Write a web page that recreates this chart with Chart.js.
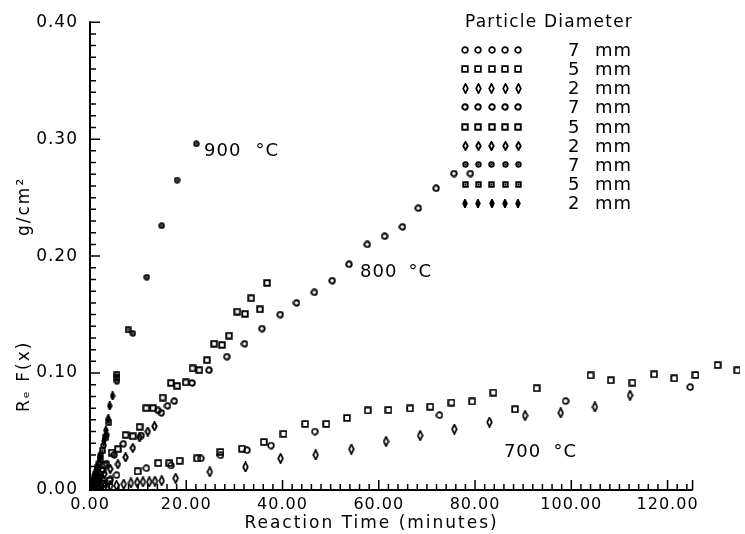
<!DOCTYPE html>
<html><head><meta charset="utf-8">
<script src="https://cdn.jsdelivr.net/npm/chart.js@4/dist/chart.umd.min.js"></script>
<style>html,body{margin:0;padding:0;background:#fff;}canvas{display:block}</style>
</head><body>
<canvas id="c" width="745" height="534"></canvas>
<script>
// ---------------- data ----------------
const xTickValues = [0, 20, 40, 60, 80, 100, 120];
const yTickValues = [0, 0.1, 0.2, 0.3, 0.4];
const xTitle = "Reaction Time (minutes)";
const yTitleLeft = "Rₑ F(x)";
const yTitleRight = "g/cm²";
const legendTitle = "Particle Diameter";
const legendLabels = ["7 mm","5 mm","2 mm","7 mm","5 mm","2 mm","7 mm","5 mm","2 mm"];
const tempNumbers = ["900", "800", "700"];
const tempUnit = "°C";

// [minutes, Re F(x)] pairs
const t900_7mm = [[0,0],[0.3,0.004],[0.6,0.007],[1.0,0.012],[1.3,0.016],[1.8,0.023],[2.2,0.030],[2.8,0.038],[3.4,0.047],[5.6,0.093],[8.9,0.134],[11.8,0.182],[14.9,0.226],[18.1,0.265],[22.1,0.296]];
const t900_5mm = [[0,0],[0.4,0.004],[0.8,0.008],[1.2,0.013],[1.6,0.019],[2.1,0.026],[2.6,0.034],[3.2,0.045],[3.9,0.058],[5.6,0.096],[5.6,0.099],[7.9,0.137]];
const t900_2mm = [[0,0],[0.2,0.002],[0.4,0.005],[0.7,0.008],[1.0,0.012],[1.5,0.019],[2.1,0.028],[2.9,0.042],[3.3,0.051],[3.8,0.061],[4.1,0.072],[4.7,0.0805]];

const t800_7mm = [[0,0],[0.5,0.002],[1.0,0.005],[1.5,0.008],[2.0,0.011],[2.7,0.017],[3.4,0.0226],[5.0,0.030],[6.9,0.0395],[10.6,0.0466],[14.1,0.068],[14.8,0.066],[16.1,0.072],[17.5,0.076],[21.2,0.0915],[24.7,0.1025],[28.4,0.114],[32.1,0.125],[35.7,0.138],[39.5,0.150],[42.9,0.160],[46.6,0.169],[50.3,0.179],[53.8,0.193],[57.6,0.210],[61.2,0.217],[64.9,0.225],[68.2,0.241],[71.9,0.258],[75.6,0.2706],[79.0,0.2706]];
const t800_5mm = [[0,0],[0.5,0.003],[1.0,0.006],[1.5,0.009],[2.0,0.013],[3.0,0.021],[4.5,0.032],[5.8,0.035],[7.4,0.047],[8.9,0.046],[10.3,0.054],[11.7,0.070],[13.1,0.070],[15.1,0.079],[16.8,0.0915],[18.1,0.089],[19.9,0.092],[21.3,0.104],[22.7,0.1025],[24.3,0.111],[25.8,0.125],[27.4,0.124],[28.9,0.132],[30.6,0.1525],[32.2,0.1506],[33.5,0.164],[35.3,0.1545],[36.8,0.177]];
const t800_2mm = [[0,0],[0.5,0.003],[1.2,0.006],[2.0,0.010],[3.0,0.014],[4.2,0.018],[5.8,0.022],[7.4,0.028],[8.9,0.036],[10.3,0.045],[12.0,0.050],[13.4,0.0545]];

const t700_7mm = [[0,0],[0.5,0.001],[1.0,0.002],[2.0,0.004],[3.0,0.006],[4.2,0.009],[5.5,0.0127],[11.7,0.0186],[16.8,0.021],[23.0,0.027],[27.1,0.0297],[32.6,0.034],[37.6,0.038],[46.7,0.050],[72.6,0.064],[98.8,0.076],[124.7,0.088]];
const t700_5mm = [[0,0],[0.7,0.001],[1.5,0.003],[2.7,0.005],[4.0,0.008],[9.9,0.016],[14.2,0.023],[16.5,0.023],[18.6,0.025],[22.3,0.027],[27.1,0.0325],[31.6,0.0353],[36.1,0.041],[40.2,0.048],[44.7,0.0565],[49.1,0.0565],[53.4,0.0616],[57.7,0.068],[62.0,0.0684],[66.5,0.0697],[70.7,0.0712],[75.1,0.0748],[79.4,0.0757],[83.8,0.0833],[88.3,0.069],[92.8,0.087],[104.0,0.098],[108.2,0.0938],[112.7,0.0918],[117.2,0.0989],[121.4,0.0955],[125.8,0.0983],[130.4,0.1068],[134.5,0.1023]];
const t700_2mm = [[0,0],[1.0,0.001],[2.0,0.002],[3.0,0.003],[4.2,0.0035],[5.5,0.004],[7.0,0.005],[8.5,0.006],[9.8,0.0065],[11.0,0.007],[12.3,0.007],[13.5,0.0075],[14.9,0.008],[17.8,0.010],[24.9,0.0155],[32.3,0.0197],[39.6,0.027],[46.9,0.030],[54.3,0.035],[61.5,0.0415],[68.6,0.0466],[75.7,0.052],[83.0,0.058],[90.4,0.0636],[97.8,0.066],[104.9,0.071],[112.2,0.081]];

// ---------------- markers ----------------
function marker(shape, w, h, lw, dot) {
  const c = document.createElement('canvas');
  c.width = w; c.height = h;
  const g = c.getContext('2d');
  g.lineWidth = lw; g.strokeStyle = '#000'; g.fillStyle = '#000';
  const cx = w / 2, cy = h / 2;
  g.beginPath();
  if (shape === 'circle') g.arc(cx, cy, Math.min(w, h) / 2 - lw / 2 - 0.3, 0, Math.PI * 2);
  else if (shape === 'square') g.rect(lw / 2 + 0.3, lw / 2 + 0.3, w - lw - 0.6, h - lw - 0.6);
  else { g.moveTo(cx, lw / 2); g.lineTo(w - lw / 2 - 0.3, cy); g.lineTo(cx, h - lw / 2); g.lineTo(lw / 2 + 0.3, cy); g.closePath(); }
  g.stroke();
  if (dot) { g.beginPath(); g.arc(cx, cy, 1, 0, Math.PI * 2); g.fill(); }
  return c;
}
const MK = {
  c700: marker('circle', 8, 8, 1.7, false), s700: marker('square', 8, 8, 1.7, false), d700: marker('diamond', 7, 11, 1.7, false),
  c800: marker('circle', 8, 8, 1.9, false), s800: marker('square', 8, 8, 1.9, false), d800: marker('diamond', 7, 10, 1.9, false),
  c900: marker('circle', 7, 7, 2.0, true),  s900: marker('square', 7, 7, 2.0, true),  d900: marker('diamond', 6, 9, 2.2, true)
};

const series = [
  {pts: t700_7mm, mk: MK.c700}, {pts: t700_5mm, mk: MK.s700}, {pts: t700_2mm, mk: MK.d700},
  {pts: t800_7mm, mk: MK.c800}, {pts: t800_5mm, mk: MK.s800}, {pts: t800_2mm, mk: MK.d800},
  {pts: t900_7mm, mk: MK.c900}, {pts: t900_5mm, mk: MK.s900}, {pts: t900_2mm, mk: MK.d900}
];

const FONT = "'DejaVu Sans', sans-serif";

function drawAxes(chart) {
  const ctx = chart.ctx, xs = chart.scales.x, ys = chart.scales.y;
  const x0 = xs.getPixelForValue(0), y0 = ys.getPixelForValue(0);
  const xEnd = xs.getPixelForValue(125.2), yTop = ys.getPixelForValue(0.4);
  ctx.save();
  ctx.globalAlpha = 1;
  ctx.setLineDash([]);
  ctx.strokeStyle = '#000000';
  ctx.lineWidth = 2;
  ctx.beginPath();
  ctx.moveTo(x0, y0); ctx.lineTo(xEnd, y0);
  ctx.moveTo(x0, y0 + 1); ctx.lineTo(x0, yTop - 1);
  ctx.stroke();
  ctx.lineWidth = 1.5;
  ctx.beginPath();
  for (let i = 1; i <= 40; i++) {
    const p = ys.getPixelForValue(i / 100);
    const len = (i % 10 === 0) ? 10 : 6;
    ctx.moveTo(x0, p); ctx.lineTo(x0 + len, p);
  }
  for (let v = 2; v <= 124; v += 2) {
    const p = xs.getPixelForValue(v);
    const len = (v % 20 === 0) ? 10 : 6;
    ctx.moveTo(p, y0); ctx.lineTo(p, y0 - len);
  }
  ctx.moveTo(xEnd, y0); ctx.lineTo(xEnd, y0 - 10);
  ctx.stroke();
  ctx.restore();
}

const drawPlugin = {
  id: 'drawPlugin',
  beforeDraw(chart) {
    chart.ctx.letterSpacing = '1px';
  },
  afterDraw(chart) {
    drawAxes(chart);
    const ctx = chart.ctx, xs = chart.scales.x, ys = chart.scales.y;
    ctx.save();
    ctx.fillStyle = '#000';
    ctx.textBaseline = 'alphabetic';
    // x title
    ctx.font = '17px ' + FONT;
    ctx.letterSpacing = '2px';
    ctx.textAlign = 'center';
    ctx.fillText(xTitle, xs.getPixelForValue(58.5), 528);
    // y title
    ctx.save();
    ctx.translate(29, 0);
    ctx.rotate(-Math.PI / 2);
    ctx.textAlign = 'left';
    ctx.letterSpacing = '2px';
    ctx.fillText(yTitleLeft, -412, 0);
    ctx.fillText(yTitleRight, -236, 0);
    ctx.restore();
    // temperature labels
    ctx.font = '18px ' + FONT;
    ctx.letterSpacing = '1px';
    ctx.textAlign = 'left';
    const ann = [[23.7, 0.2856, 34.4], [56.1, 0.1822, 66.2], [86.0, 0.028, 96.3]];
    ann.forEach((a, i) => {
      const by = ys.getPixelForValue(a[1]);
      ctx.fillText(tempNumbers[i], xs.getPixelForValue(a[0]), by);
      ctx.fillText(tempUnit, xs.getPixelForValue(a[2]), by);
    });
    // legend
    ctx.font = '17px ' + FONT;
    ctx.letterSpacing = '1.2px';
    ctx.fillText(legendTitle, 465, 27);
    ctx.font = '18px ' + FONT;
    ctx.letterSpacing = '1px';
    const mx = [465, 478.3, 491.7, 505, 518.3];
    legendLabels.forEach((lab, i) => {
      const cy = 50 + i * 19.15;
      const mk = series[i].mk;
      mx.forEach(x => ctx.drawImage(mk, Math.round(x - mk.width / 2), Math.round(cy - mk.height / 2)));
      const parts = lab.split(' ');
      ctx.fillText(parts[0], 568, cy + 6);
      ctx.fillText(parts[1], 595, cy + 6);
    });
    ctx.restore();
  }
};

Chart.defaults.font.family = FONT;
Chart.defaults.color = '#000';

new Chart(document.getElementById('c'), {
  type: 'scatter',
  data: {
    datasets: series.map((s, i) => ({
      label: legendLabels[i],
      data: s.pts.map(p => ({x: p[0], y: p[1]})),
      pointStyle: s.mk,
      pointRadius: 4,
      showLine: false
    }))
  },
  options: {
    responsive: false,
    animation: false,
    devicePixelRatio: 1,
    layout: {padding: {top: 18, right: 0, left: 0, bottom: 0}},
    plugins: {legend: {display: false}, tooltip: {enabled: false}},
    scales: {
      x: {
        type: 'linear', min: 0, max: 135.05,
        grid: {display: false, drawTicks: false},
        border: {display: false},
        afterFit: s => { s.height = 44; },
        afterBuildTicks: s => { s.ticks = xTickValues.map(v => ({value: v})); },
        ticks: {font: {size: 16}, padding: 5, color: '#000', maxRotation: 0, autoSkip: false,
                callback: v => Number(v).toFixed(2)}
      },
      y: {
        type: 'linear', min: 0, max: 0.4,
        grid: {display: false, drawTicks: false},
        border: {display: false},
        afterFit: s => { s.width = 90; },
        afterBuildTicks: s => { s.ticks = yTickValues.map(v => ({value: v})); },
        ticks: {font: {size: 17}, padding: 12, color: '#000', autoSkip: false,
                callback: v => Number(v).toFixed(2)}
      }
    }
  },
  plugins: [drawPlugin]
});
</script>
</body></html>
